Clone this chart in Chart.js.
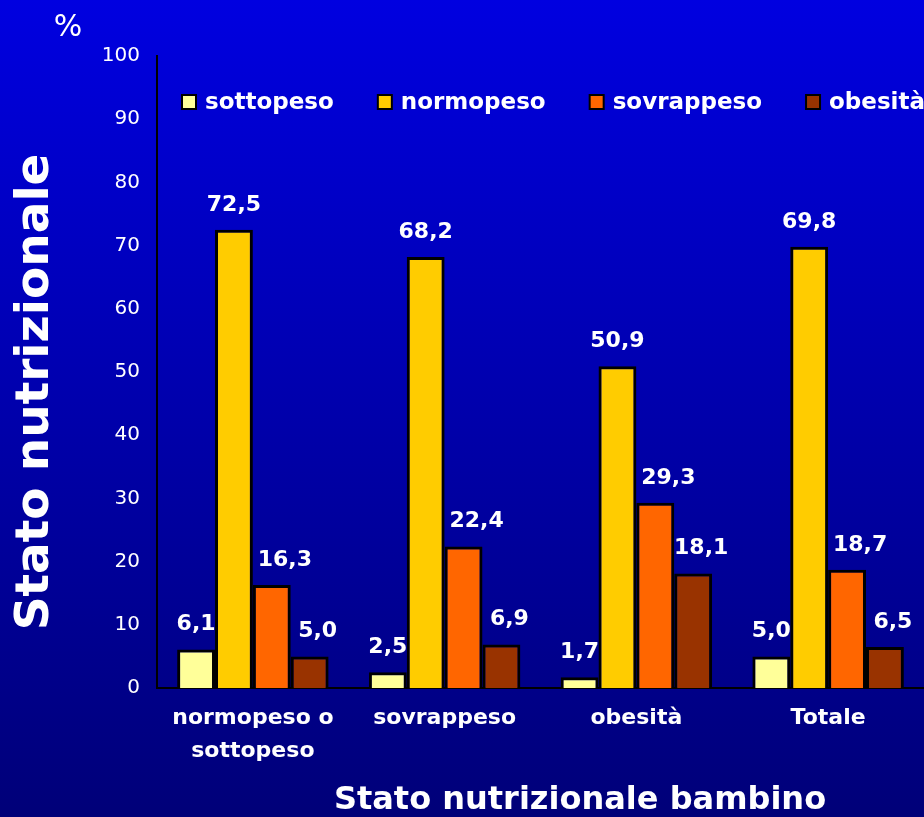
<!DOCTYPE html>
<html lang="it">
<head>
    <meta charset="UTF-8">
    <title>Stato nutrizionale bambino</title>
    <script src="https://cdn.jsdelivr.net/npm/chart.js@4.4.0/dist/chart.umd.min.js"></script>
    <style>
        html, body {
            margin: 0;
            padding: 0;
        }

        body {
            width: 924px;
            height: 817px;
            overflow: hidden;
            background: linear-gradient(to bottom, #0000e0, #000078);
        }

        .chart-box {
            position: relative;
            width: 924px;
            height: 817px;
        }
    </style>
</head>
<body>
    <div class="chart-box">
        <canvas id="nutriChart" width="924" height="817"></canvas>
    </div>
    <script>
        // data
        const categories = [['normopeso o', 'sottopeso'], 'sovrappeso', 'obesità', 'Totale'];
        const seriesNames = ['sottopeso', 'normopeso', 'sovrappeso', 'obesità'];
        const sottopeso = [6.1, 2.5, 1.7, 5.0];
        const normopeso = [72.5, 68.2, 50.9, 69.8];
        const sovrappeso = [16.3, 22.4, 29.3, 18.7];
        const obesita = [5.0, 6.9, 18.1, 6.5];
        const yTicks = [0, 10, 20, 30, 40, 50, 60, 70, 80, 90, 100];

        const colors = ['#ffff99', '#ffcc00', '#ff6600', '#993300'];
        const labelShift = [0, 0, 13, 8]; // the value labels sit a bit right on the last two series
        const FONT = '"DejaVu Sans", Verdana, sans-serif';

        const seriesValues = [sottopeso, normopeso, sovrappeso, obesita];
        const datasets = seriesNames.map((name, i) => ({
            label: name,
            data: seriesValues[i],
            backgroundColor: colors[i],
            borderColor: '#000',
            borderWidth: 3,
            borderSkipped: 'bottom',
            categoryPercentage: 0.79,
            barPercentage: 1.0
        }));

        // value labels above bars (italian decimal comma)
        const valueLabels = {
            id: 'valueLabels',
            afterDatasetsDraw(chart) {
                const ctx = chart.ctx;
                ctx.save();
                ctx.fillStyle = '#fff';
                ctx.font = 'bold 22px ' + FONT;
                ctx.textAlign = 'center';
                ctx.textBaseline = 'middle';
                chart.data.datasets.forEach((ds, i) => {
                    chart.getDatasetMeta(i).data.forEach((bar, j) => {
                        const txt = ds.data[j].toFixed(1).replace('.', ',');
                        ctx.fillText(txt, bar.x + labelShift[i], bar.y - 25);
                    });
                });
                ctx.restore();
            }
        };

        // legend inside the plot, titles and % sign
        const decorations = {
            id: 'decorations',
            afterDraw(chart) {
                const ctx = chart.ctx;
                const area = chart.chartArea;
                ctx.save();

                // legend
                ctx.font = 'bold 23px ' + FONT;
                ctx.textBaseline = 'middle';
                ctx.textAlign = 'left';
                let x = area.left + 25;
                const ly = area.top + 46;
                chart.data.datasets.forEach((ds) => {
                    ctx.fillStyle = ds.backgroundColor;
                    ctx.fillRect(x, ly - 7, 14, 14);
                    ctx.strokeStyle = '#000';
                    ctx.lineWidth = 2;
                    ctx.strokeRect(x, ly - 7, 14, 14);
                    ctx.fillStyle = '#fff';
                    ctx.fillText(ds.label, x + 23, ly + 1);
                    x += 23 + ctx.measureText(ds.label).width + 44;
                });

                // % sign
                ctx.font = '30px ' + FONT;
                ctx.textAlign = 'center';
                ctx.fillText('%', 68, 28);

                // x title
                ctx.font = 'bold 32px ' + FONT;
                ctx.fillText('Stato nutrizionale bambino', 580, 801);

                // y title
                ctx.translate(36, 392);
                ctx.rotate(-Math.PI / 2);
                ctx.font = 'bold 47px ' + FONT;
                ctx.fillText('Stato nutrizionale', 0, 0);

                ctx.restore();
            }
        };

        const ctx1 = document.getElementById('nutriChart').getContext('2d');
        const nutriChart = new Chart(ctx1, {
            type: 'bar',
            data: {
                labels: categories,
                datasets: datasets
            },
            options: {
                responsive: false,
                maintainAspectRatio: false,
                animation: false,
                devicePixelRatio: 1,
                layout: {
                    padding: { top: 56, left: 0, right: 0, bottom: 0 }
                },
                plugins: {
                    legend: { display: false },
                    tooltip: { enabled: false }
                },
                scales: {
                    x: {
                        grid: { display: false, drawTicks: false },
                        border: { color: '#000', width: 2 },
                        ticks: {
                            color: '#fff',
                            font: { family: FONT, size: 22, weight: 'bold', lineHeight: 1.5 },
                            padding: 14,
                            maxRotation: 0,
                            autoSkip: false
                        },
                        afterFit(scale) { scale.height = 129; }
                    },
                    y: {
                        min: 0,
                        max: 100,
                        afterBuildTicks(scale) {
                            scale.ticks = yTicks.map(v => ({ value: v }));
                        },
                        grid: { display: false, drawTicks: false },
                        border: { color: '#000', width: 2 },
                        ticks: {
                            color: '#fff',
                            font: { family: FONT, size: 20 },
                            padding: 17
                        },
                        afterFit(scale) { scale.width = 157; }
                    }
                }
            },
            plugins: [valueLabels, decorations]
        });
    </script>
</body>
</html>
